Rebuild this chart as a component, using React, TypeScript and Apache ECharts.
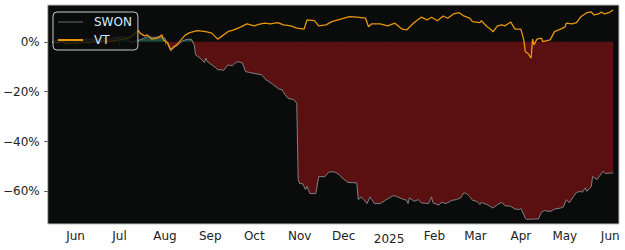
import React, { useEffect, useRef } from "react";
import * as echarts from "echarts";

// SWON cumulative return (%)
const swonDates = [
  "2024-05-16","2024-05-19","2024-05-23","2024-05-29","2024-06-03","2024-06-09","2024-06-14","2024-06-20","2024-06-25",
  "2024-07-01","2024-07-05","2024-07-09","2024-07-13","2024-07-15","2024-07-18","2024-07-20","2024-07-24","2024-07-28",
  "2024-08-01","2024-08-02","2024-08-05","2024-08-08","2024-08-10","2024-08-13","2024-08-16","2024-08-19","2024-08-21",
  "2024-08-22","2024-08-25","2024-08-28","2024-08-29","2024-08-30","2024-09-05","2024-09-06","2024-09-09","2024-09-10",
  "2024-09-13","2024-09-16","2024-09-18","2024-09-20","2024-09-23","2024-09-25","2024-09-28","2024-10-03","2024-10-06",
  "2024-10-09","2024-10-11","2024-10-14","2024-10-18","2024-10-20","2024-10-22","2024-10-24","2024-10-28","2024-10-30",
  "2024-10-31","2024-11-01","2024-11-03","2024-11-05","2024-11-06","2024-11-08","2024-11-12","2024-11-14","2024-11-18",
  "2024-11-21","2024-11-25","2024-11-28","2024-11-30","2024-12-04","2024-12-10","2024-12-11","2024-12-13","2024-12-17",
  "2024-12-19","2024-12-22","2024-12-26","2024-12-31","2025-01-04","2025-01-06","2025-01-10","2025-01-13","2025-01-14",
  "2025-01-15","2025-01-18","2025-01-21","2025-01-23","2025-01-28","2025-01-30","2025-01-31","2025-02-04","2025-02-06",
  "2025-02-09","2025-02-13","2025-02-16","2025-02-19","2025-02-21","2025-02-23","2025-02-25","2025-02-27","2025-03-02",
  "2025-03-04","2025-03-05","2025-03-09","2025-03-13","2025-03-16","2025-03-19","2025-03-21","2025-03-25","2025-03-28",
  "2025-03-31","2025-04-01","2025-04-04","2025-04-05","2025-04-09","2025-04-13","2025-04-15","2025-04-17","2025-04-21",
  "2025-04-24","2025-04-28","2025-04-30","2025-05-02","2025-05-04","2025-05-07","2025-05-09","2025-05-12","2025-05-13",
  "2025-05-15","2025-05-16","2025-05-19","2025-05-20","2025-05-23","2025-05-27","2025-05-29","2025-06-01","2025-06-03"
];
const swonValues = [
  0, 0.6, 0.4, -0.2, 0.4, 1.2, 0.8, 1.6, 1.2,
  2.0, 1.9, -0.3, 0.5, 0.8, 1.5, 2.1, 1.8, 2.0,
  1.5, 0.1, -3.6, -2.0, -1.2, 0.4, 1.0, 1.1, -1.2,
  -5.2, -6.5, -8.3, -6.5, -7.9, -10.5, -11.2, -11.2, -11.5,
  -9.2, -9.6, -8.5, -7.9, -8.5, -11.9, -12.3, -12.9, -13.2,
  -15.2, -15.9, -17.2, -19.0, -19.2, -21.2, -22.6, -23.2, -24.6,
  -55.3, -56.9, -56.9, -59.3, -58.0, -60.9, -60.9, -54.0, -54.2,
  -52.2, -52.2, -53.3, -54.6, -56.4, -56.6, -63.3, -62.2, -64.9,
  -62.2, -64.9, -64.9, -63.0, -61.7, -62.0, -63.0, -63.6, -64.9,
  -62.6, -64.0, -63.3, -64.6, -64.9, -62.2, -64.6, -65.5, -64.4,
  -64.9, -63.6, -63.3, -62.6, -60.6, -60.9, -62.0, -63.6, -64.0,
  -65.3, -64.4, -65.3, -66.7, -65.3, -64.4, -65.7, -66.0, -67.1,
  -67.3, -66.8, -70.7, -71.3, -71.1, -71.1, -68.4, -67.7, -68.1,
  -67.1, -66.7, -66.3, -63.3, -64.6, -62.0, -60.4, -60.0, -60.4,
  -58.6, -60.0, -58.2, -54.0, -55.3, -52.0, -52.9, -52.6, -52.6
];

// VT cumulative return (%)
const vtDates = [
  "2024-05-16","2024-05-19","2024-05-23","2024-05-26","2024-05-30","2024-06-02","2024-06-06","2024-06-10","2024-06-14",
  "2024-06-18","2024-06-22","2024-06-25","2024-06-29","2024-07-04","2024-07-09","2024-07-12","2024-07-14","2024-07-15",
  "2024-07-18","2024-07-20","2024-07-23","2024-07-27","2024-07-30","2024-07-31","2024-08-03","2024-08-05","2024-08-07",
  "2024-08-09","2024-08-12","2024-08-15","2024-08-18","2024-08-23","2024-08-29","2024-09-02","2024-09-06","2024-09-08",
  "2024-09-13","2024-09-17","2024-09-22","2024-09-26","2024-10-01","2024-10-04","2024-10-08","2024-10-12","2024-10-17",
  "2024-10-21","2024-10-26","2024-10-30","2024-11-04","2024-11-06","2024-11-11","2024-11-14","2024-11-19","2024-11-23",
  "2024-11-29","2024-12-05","2024-12-10","2024-12-16","2024-12-18","2024-12-20","2024-12-26","2024-12-31","2025-01-05",
  "2025-01-10","2025-01-13","2025-01-18","2025-01-23","2025-01-27","2025-01-30","2025-02-03","2025-02-07","2025-02-10",
  "2025-02-14","2025-02-18","2025-02-21","2025-02-25","2025-02-27","2025-03-04","2025-03-05","2025-03-09","2025-03-12",
  "2025-03-13","2025-03-16","2025-03-19","2025-03-21","2025-03-25","2025-03-28","2025-04-01","2025-04-03","2025-04-04",
  "2025-04-06","2025-04-08","2025-04-09","2025-04-10","2025-04-12","2025-04-15","2025-04-16","2025-04-21","2025-04-24",
  "2025-04-28","2025-05-01","2025-05-02","2025-05-06","2025-05-09","2025-05-12","2025-05-16","2025-05-19","2025-05-21",
  "2025-05-24","2025-05-26","2025-05-28","2025-05-31","2025-06-03"
];
const vtValues = [
  0, -0.4, 0.2, -0.8, -0.4, -0.6, 0, -0.4, 0.2,
  0, 0.4, 0.1, 0.6, 1.1, 2.1, 3.7, 4.5, 3.5,
  2.4, 2.8, 1.1, 1.5, 2.8, 0.8, -0.5, -3.2, -1.9,
  -1.2, 0.8, 2.8, 3.7, 4.5, 4.1, 3.5, 1.1, 1.9,
  4.1, 4.8, 6.0, 7.2, 6.4, 7.0, 7.5, 7.2, 7.7,
  6.8, 6.4, 5.5, 5.1, 8.8, 8.5, 6.4, 6.8, 8.1,
  9.1, 10.1, 9.9, 9.5, 6.1, 7.2, 7.2, 6.4, 7.5,
  5.1, 4.8, 7.7, 9.9, 8.8, 9.9, 8.5, 10.4, 9.5,
  11.2, 11.7, 10.4, 9.5, 8.1, 7.7, 8.5, 6.1, 4.8,
  4.0, 6.4, 6.8, 6.4, 8.0, 5.1, 5.1, 0.8, -3.9,
  -4.8, -6.5, 1.1, -1.2, 1.1, 1.5, 0.1, 0.8, 4.1,
  5.1, 5.9, 7.5, 7.2, 7.7, 10.1, 11.7, 12.0, 10.8,
  11.2, 12.0, 11.2, 11.7, 12.8
];

const xMin = "2024-05-13";
const xMax = "2025-06-07";
const yMin = -73.1;
const yMax = 14.8;

const tickDates = [
  "2024-06-01","2024-07-01","2024-08-01","2024-09-01","2024-10-01","2024-11-01","2024-12-01",
  "2025-01-01","2025-02-01","2025-03-01","2025-04-01","2025-05-01","2025-06-01"
];
const tickLabels = ["Jun","Jul","Aug","Sep","Oct","Nov","Dec","2025","Feb","Mar","Apr","May","Jun"];
const yTicks = [0, -20, -40, -60];

const FONT = "DejaVu Sans";

const ts = (s: string) => {
  const [y, m, d] = s.split("-").map(Number);
  return Date.UTC(y, m - 1, d);
};

export default function App() {
  const ref = useRef<HTMLDivElement>(null);
  useEffect(() => {
    if (!ref.current) return;
    const chart = echarts.init(ref.current, null, { renderer: "svg" });
    const swon = swonDates.map((d, i) => [ts(d), swonValues[i]]);
    const vt = vtDates.map((d, i) => [ts(d), vtValues[i]]);
    const swonNeg = swonDates.map((d, i) => [ts(d), Math.min(swonValues[i], 0)]);
    const swonPos = swonDates.map((d, i) => [ts(d), Math.max(swonValues[i], 0)]);
    const tickTs = tickDates.map(ts);

    const labelFor = (val: number) => {
      let best = -1;
      let bestDiff = Infinity;
      tickTs.forEach((t, i) => {
        const diff = Math.abs(t - val);
        if (diff < bestDiff) {
          bestDiff = diff;
          best = i;
        }
      });
      if (best < 0 || bestDiff > 86400000) return "";
      const lab = tickLabels[best];
      return /^\d{4}$/.test(lab) ? "{yr|" + lab + "}" : lab;
    };

    chart.setOption({
      animation: false,
      backgroundColor: "#ffffff",
      grid: {
        left: 46,
        right: 6,
        top: 5,
        bottom: 26,
        show: true,
        backgroundColor: "#0a0c0b",
        borderColor: "#bdbdbd",
        borderWidth: 1,
      },
      legend: {
        data: [
          { name: "SWON", icon: "path://M0,0 L25,0 L25,1 L0,1 Z" },
          { name: "VT", icon: "path://M0,0 L25,0 L25,2 L0,2 Z" },
        ],
        symbolKeepAspect: true,
        orient: "vertical",
        left: 53,
        top: 12,
        padding: [4, 6, 4, 5],
        itemGap: 6,
        itemWidth: 25,
        itemHeight: 14,
        backgroundColor: "rgba(10,12,11,0.8)",
        borderColor: "#c8c8c8",
        borderWidth: 1,
        borderRadius: 4,
        textStyle: {
          color: "#d4e9ff",
          fontSize: 12,
          fontFamily: FONT,
          padding: [0, 0, 0, 6],
        },
      },
      xAxis: {
        type: "value",
        min: ts(xMin),
        max: ts(xMax),
        scale: true,
        axisLine: { show: false },
        splitLine: { show: false },
        axisTick: {
          show: true,
          length: 3.5,
          customValues: tickTs,
          lineStyle: { color: "#555", width: 1 },
        },
        axisLabel: {
          customValues: tickTs,
          formatter: (v: number) => labelFor(v),
          color: "#222",
          fontSize: 12,
          fontFamily: FONT,
          margin: 6,
          rich: { yr: { fontSize: 12, fontFamily: FONT, color: "#222", padding: [3, 0, 0, 0] } },
        },
      },
      yAxis: {
        type: "value",
        min: yMin,
        max: yMax,
        axisLine: { show: false },
        splitLine: { show: false },
        axisTick: {
          show: true,
          length: 3.5,
          customValues: yTicks,
          lineStyle: { color: "#555", width: 1 },
        },
        axisLabel: {
          customValues: yTicks,
          formatter: (v: number) => (v < 0 ? "\u2212" : "") + Math.abs(v) + "%",
          color: "#222",
          fontSize: 12,
          fontFamily: FONT,
          margin: 8,
        },
      },
      series: [
        {
          name: "swonNegFill",
          type: "line",
          data: swonNeg,
          showSymbol: false,
          symbol: "none",
          lineStyle: { width: 0, opacity: 0 },
          areaStyle: { color: "#5a1010", opacity: 1, origin: 0 },
          z: 1,
          silent: true,
        },
        {
          name: "swonPosFill",
          type: "line",
          data: swonPos,
          showSymbol: false,
          symbol: "none",
          lineStyle: { width: 0, opacity: 0 },
          areaStyle: { color: "#1d4a42", opacity: 1, origin: 0 },
          z: 1,
          silent: true,
        },
        {
          name: "SWON",
          type: "line",
          data: swon,
          showSymbol: false,
          symbol: "none",
          color: "#808080",
          itemStyle: { color: "#6a6a6a" },
          lineStyle: { color: "#808080", width: 1 },
          z: 2,
        },
        {
          name: "VT",
          type: "line",
          data: vt,
          showSymbol: false,
          symbol: "none",
          color: "#e8960c",
          itemStyle: { color: "#e8960c" },
          lineStyle: { color: "#e8960c", width: 1.3 },
          z: 3,
        },
      ],
    });
    return () => chart.dispose();
  }, []);
  return (
    <div
      ref={ref}
      style={{ position: "fixed", left: 0, top: 0, width: 625, height: 250 }}
    />
  );
}
